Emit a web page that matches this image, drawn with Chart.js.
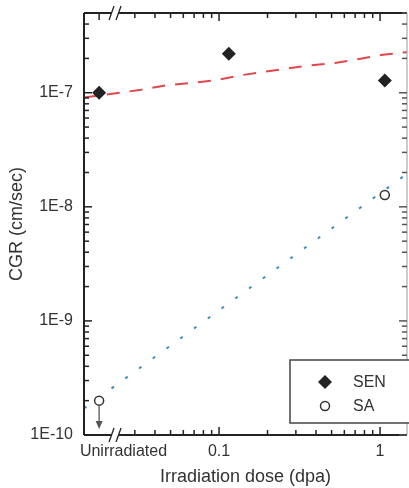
<!DOCTYPE html>
<html>
<head>
<meta charset="utf-8">
<script src="https://cdn.jsdelivr.net/npm/chart.js@4.4.0/dist/chart.umd.min.js"></script>
<style>
  html, body { margin: 0; padding: 0; background: #fff; }
</style>
</head>
<body>
<canvas id="cgrChart" width="409" height="488"></canvas>
<script>
// where the "Unirradiated" group sits on the log dose axis
const unirrDose = 0.018;
const breakDose = 0.0226;

// measured points
const senDose = [unirrDose, 0.115, 1.07];
const senCgr = [1.0e-7, 2.2e-7, 1.28e-7];
const saDose = [unirrDose, 1.07];
const saCgr = [2.0e-10, 1.27e-8];

// trend lines
const senTrendDose = [0.0145, 0.0328, 0.0469, 0.0931, 0.135, 0.185, 0.264, 0.372, 0.525, 0.741, 1.04, 1.47];
const senTrendCgr = [9.1e-8, 1.06e-7, 1.16e-7, 1.28e-7, 1.42e-7, 1.52e-7, 1.63e-7, 1.74e-7, 1.82e-7, 1.98e-7, 2.15e-7, 2.27e-7];
const saTrendDose = [0.0145, 1.47];
const saTrendCgr = [1.71e-10, 1.95e-8];

// axes
const yTickValues = [1e-10, 1e-9, 1e-8, 1e-7];
const yTickLabels = ['1E-10', '1E-9', '1E-8', '1E-7'];
const xTickValues = [0.0255, 0.1, 1];
const xTickLabels = ['Unirradiated', '0.1', '1'];
const xMajorMarks = [0.1, 1];
const xMinorMarks = [0.03, 0.04, 0.05, 0.06, 0.07, 0.08, 0.09, 0.2, 0.3, 0.4, 0.5, 0.6, 0.7, 0.8, 0.9];

const toPoints = (xs, ys) => xs.map((v, i) => ({ x: v, y: ys[i] }));

Chart.defaults.font.family = '"Liberation Sans", Arial, sans-serif';
Chart.defaults.color = '#333';

function drawMarker(ctx, style, x, y) {
    ctx.beginPath();
    if (style === 'rectRot') {
        const r = 7;
        ctx.moveTo(x, y - r);
        ctx.lineTo(x + r, y);
        ctx.lineTo(x, y + r);
        ctx.lineTo(x - r, y);
        ctx.closePath();
        ctx.fillStyle = '#222';
        ctx.fill();
    } else {
        ctx.arc(x, y, 4.5, 0, Math.PI * 2);
        ctx.fillStyle = '#fff';
        ctx.fill();
        ctx.lineWidth = 1.5;
        ctx.strokeStyle = '#333';
        ctx.stroke();
    }
}

// frame, inward ticks, axis break, arrow and the boxed legend
const framePlugin = {
    id: 'frame',
    afterDraw(chart) {
        const { ctx, chartArea: a, scales: { x, y } } = chart;
        const seg = (x1, y1, x2, y2) => { ctx.beginPath(); ctx.moveTo(x1, y1); ctx.lineTo(x2, y2); ctx.stroke(); };
        ctx.save();
        ctx.strokeStyle = '#222';
        ctx.lineWidth = 2;
        const bx = x.getPixelForValue(breakDose);
        seg(a.left, a.top, a.left, a.bottom);
        seg(a.left, a.bottom, bx - 4, a.bottom);
        seg(bx + 4, a.bottom, a.right, a.bottom);
        seg(a.left, a.top, bx - 4, a.top);
        seg(bx + 4, a.top, a.right, a.top);
        ctx.lineWidth = 1.3;
        [a.top, a.bottom].forEach(yy => {
            seg(bx - 6, yy + 7, bx - 1, yy - 7);
            seg(bx + 1, yy + 7, bx + 6, yy - 7);
        });
        ctx.strokeStyle = '#999';
        ctx.lineWidth = 1;
        seg(a.right, a.top, a.right, a.bottom);

        // y ticks
        ctx.lineWidth = 1.5;
        const yMax = y.max;
        yTickValues.forEach(d => {
            for (let k = 1; k <= 9; k++) {
                const v = k * d;
                if (v > yMax) break;
                const p = y.getPixelForValue(v);
                const len = k === 1 ? 8 : 5;
                ctx.strokeStyle = '#222';
                seg(a.left, p, a.left + len, p);
                ctx.strokeStyle = '#555';
                seg(a.right, p, a.right - len, p);
            }
        });
        // x ticks
        ctx.strokeStyle = '#222';
        xMajorMarks.concat(xMinorMarks).forEach(v => {
            const p = x.getPixelForValue(v);
            const len = xMajorMarks.includes(v) ? 8 : 5;
            seg(p, a.bottom, p, a.bottom - len);
            seg(p, a.top, p, a.top + len);
        });
        const ux = x.getPixelForValue(unirrDose);
        seg(ux, a.top, ux, a.top + 7);

        // arrow: unirradiated SA value is an upper bound
        const py = y.getPixelForValue(saCgr[0]);
        ctx.strokeStyle = '#555';
        ctx.fillStyle = '#555';
        ctx.lineWidth = 1.3;
        seg(ux, py + 5, ux, a.bottom - 12);
        ctx.beginPath();
        ctx.moveTo(ux - 3.5, a.bottom - 14);
        ctx.lineTo(ux + 3.5, a.bottom - 14);
        ctx.lineTo(ux, a.bottom - 6);
        ctx.closePath();
        ctx.fill();

        // legend
        const lx = a.right - 117, ly = a.bottom - 75;
        ctx.fillStyle = '#fff';
        ctx.fillRect(lx, ly, 130, 63);
        ctx.strokeStyle = '#444';
        ctx.lineWidth = 1.5;
        ctx.strokeRect(lx, ly, 130, 63);
        const rows = [
            { label: chart.data.datasets[2].label, style: 'rectRot', y: ly + 22 },
            { label: chart.data.datasets[3].label, style: 'circle', y: ly + 46 }
        ];
        rows.forEach(r => {
            drawMarker(ctx, r.style, lx + 35, r.y);
            ctx.fillStyle = '#333';
            ctx.font = '16px "Liberation Sans", Arial, sans-serif';
            ctx.textBaseline = 'middle';
            ctx.textAlign = 'left';
            ctx.fillText(r.label, lx + 63, r.y + 1);
        });
        ctx.restore();
    }
};

const noPad = s => { s.paddingTop = 0; s.paddingBottom = 0; s.paddingLeft = 0; s.paddingRight = 0; };

const ctx = document.getElementById('cgrChart').getContext('2d');
const cgrChart = new Chart(ctx, {
    type: 'scatter',
    data: {
        datasets: [{
            label: 'SEN trend',
            data: toPoints(senTrendDose, senTrendCgr),
            showLine: true,
            borderColor: '#e2474e',
            borderWidth: 2,
            borderDash: [13, 10],
            pointRadius: 0,
            order: 3
        }, {
            label: 'SA trend',
            data: toPoints(saTrendDose, saTrendCgr),
            showLine: true,
            borderColor: '#3a8dc0',
            borderWidth: 2,
            borderDash: [3, 14],
            pointRadius: 0,
            order: 3
        }, {
            label: 'SEN',
            data: toPoints(senDose, senCgr),
            pointStyle: 'rectRot',
            pointRadius: 7,
            backgroundColor: '#222',
            borderColor: '#222',
            borderWidth: 0,
            order: 1
        }, {
            label: 'SA',
            data: toPoints(saDose, saCgr),
            pointStyle: 'circle',
            pointRadius: 4.5,
            backgroundColor: '#fff',
            borderColor: '#333',
            borderWidth: 1.5,
            order: 1
        }]
    },
    options: {
        responsive: false,
        animation: false,
        layout: { autoPadding: false, padding: { top: 13, right: 2, left: 0, bottom: 0 } },
        plugins: {
            legend: { display: false },
            tooltip: { enabled: false }
        },
        scales: {
            x: {
                type: 'logarithmic',
                min: 0.0145,
                max: 1.47,
                grid: { display: false, drawTicks: false },
                border: { display: false },
                afterBuildTicks: s => { s.ticks = xTickValues.map(v => ({ value: v })); },
                ticks: {
                    autoSkip: false,
                    maxRotation: 0,
                    padding: 7,
                    font: { size: 16 },
                    callback: (v, i) => xTickLabels[i]
                },
                title: {
                    display: true,
                    text: 'Irradiation dose (dpa)',
                    font: { size: 18 },
                    padding: { top: 0, bottom: 0 }
                },
                afterFit: s => { s.height = 53; noPad(s); }
            },
            y: {
                type: 'logarithmic',
                min: 1e-10,
                max: 5e-7,
                grid: { display: false, drawTicks: false },
                border: { display: false },
                afterBuildTicks: s => { s.ticks = yTickValues.map(v => ({ value: v })); },
                ticks: {
                    autoSkip: false,
                    padding: 11,
                    font: { size: 16 },
                    callback: (v, i) => yTickLabels[i]
                },
                title: {
                    display: true,
                    text: 'CGR (cm/sec)',
                    font: { size: 18 },
                    padding: { top: 6, bottom: 0 }
                },
                afterFit: s => { s.width = 84; noPad(s); }
            }
        }
    },
    plugins: [framePlugin]
});
</script>
</body>
</html>
